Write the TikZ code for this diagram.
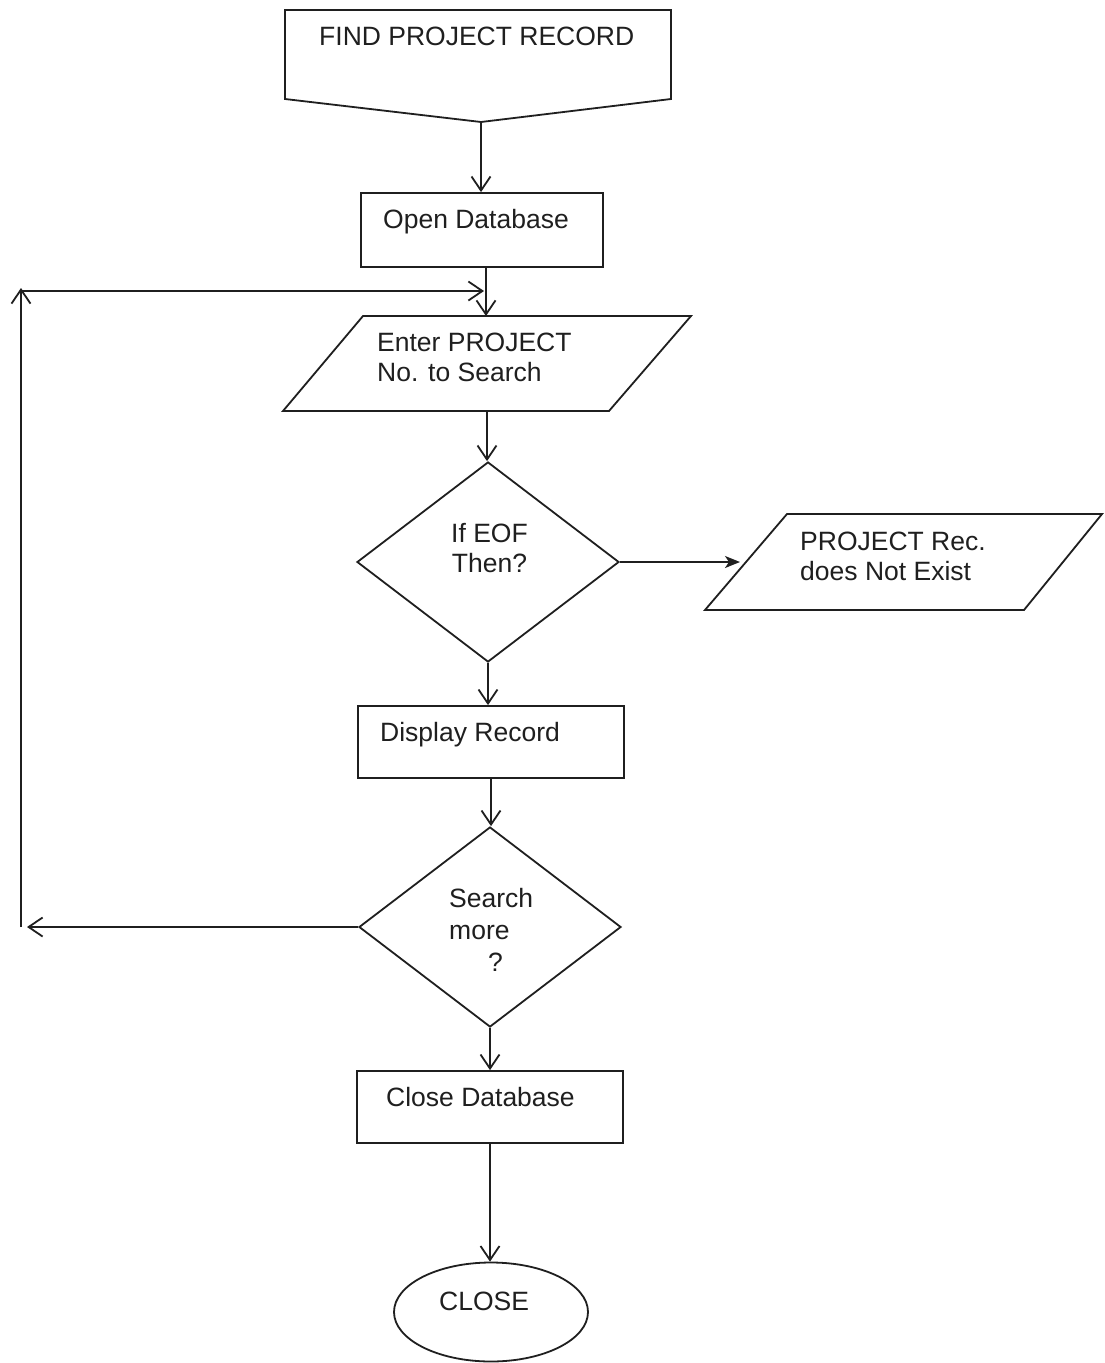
\documentclass[tikz,border=0pt]{standalone}
\usepackage{fontspec}
\setmainfont{Liberation Sans}
\usetikzlibrary{arrows.meta,shapes.geometric}

\tikzset{
  ink/.style={draw=black!88, line width=1.8pt},
  procbox/.style={ink, rectangle, inner sep=0pt, minimum width=#1},
  decide/.style={ink, diamond, inner sep=0pt, minimum width=262pt, minimum height=200pt},
  terminal/.style={ink, ellipse, inner sep=0pt, minimum width=194pt, minimum height=99pt},
  label/.style={inner sep=0pt, text=black!88,
                font=\fontsize{26.5pt}{30pt}\selectfont},
  flow/.style={ink, -{Straight Barb[length=14pt,width=19pt]}},
  solidflow/.style={ink, -{Stealth[length=15pt,width=12pt,inset=4pt]}}
}

\begin{document}
\begin{tikzpicture}[x=1pt, y=-1pt]
  \useasboundingbox[fill=white] (0,0) rectangle (1104,1363);

  % entry: off-page connector
  \draw[ink, line join=miter] (285,10) -- (671,10) -- (671,99) -- (481,122) -- (285,99) -- cycle;
  \coordinate (findtip) at (481,122);
  \node[label, anchor=base west] (findtxt) at (319,45) {FIND PROJECT RECORD};

  % input/output parallelograms
  \draw[ink, line join=miter] (363,316) -- (691,316) -- (609,411) -- (283,411) -- cycle;
  \coordinate (enterN) at (487,316);
  \coordinate (enterS) at (487,411);
  \draw[ink, line join=miter] (787,514) -- (1102,514) -- (1024,610) -- (705,610) -- cycle;
  \coordinate (noexistW) at (746,562);

  % process, decision and terminal shapes
  \node[procbox=242pt, minimum height=74pt] (open) at (482,230) {};
  \node[decide] (eof) at (488,562) {};
  \node[procbox=266pt, minimum height=72pt] (display) at (491,742) {};
  \node[decide] (more) at (490,927) {};
  \node[procbox=266pt, minimum height=72pt] (closedb) at (490,1107) {};
  \node[terminal] (close) at (491,1312) {};

  % texts
  \node[label, anchor=base west] (opentxt) at (383,228) {Open Database};
  \node[label, anchor=west, align=left] (entertxt) at (377,357.5) {Enter PROJECT\\No. to Search};
  \node[label, align=center] (eoftxt) at (489.5,548.5) {If EOF\\Then?};
  \node[label, anchor=west, align=left] (noexisttxt) at (800,556.5) {PROJECT Rec.\\does Not Exist};
  \node[label, anchor=base west] (displaytxt) at (380,741) {Display Record};
  \node[label, anchor=west, align=left, font=\fontsize{26.5pt}{32pt}\selectfont]
       (moretxt) at (449,929.5) {Search\\more\\\hspace*{39pt}?};
  \node[label, anchor=base west] (closedbtxt) at (386,1106) {Close Database};
  \node[label, anchor=base west] (closetxt) at (439,1310) {CLOSE};

  % loop-back corners
  \coordinate (loopB) at (21,927);
  \coordinate (loopT) at (21,291);
  \coordinate (loopE) at (484,291);

  % connectors
  \draw[flow] (findtip) -- (findtip |- open.north);
  \draw[flow] ([xshift=4pt]open.south) -- ([xshift=4pt]open.south |- enterN);
  \draw[flow] (enterS) -- (enterS |- eof.north);
  \draw[solidflow] (eof.east) -- ([xshift=-6pt]noexistW);
  \draw[flow] (eof.south) -- (eof.south |- display.north);
  \draw[flow] (display.south) -- (display.south |- more.north);
  \draw[flow] (more.south) -- (more.south |- closedb.north);
  \draw[flow] (closedb.south) -- (closedb.south |- close.north);
  \draw[flow] (more.west) -- ([xshift=6pt]loopB);
  \draw[flow] (loopB) -- ([yshift=3pt]loopT);
  \draw[flow] (loopT) -- (loopE);
\end{tikzpicture}
\end{document}
